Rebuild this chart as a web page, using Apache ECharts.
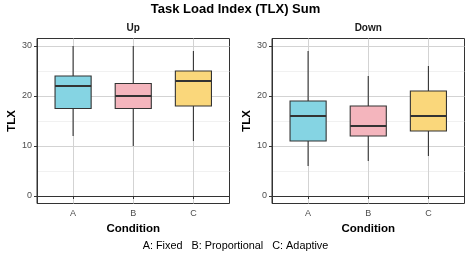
<!DOCTYPE html>
<html>
<head>
<meta charset="utf-8">
<script src="https://cdn.jsdelivr.net/npm/echarts@6/dist/echarts.min.js"></script>
<style>
html,body{margin:0;padding:0;background:#fff;}
#chart{width:471px;height:255px;}
</style>
</head>
<body>
<div id="chart"></div>
<script>
// ---- data ----
const categories = ['A', 'B', 'C'];
const categoryPositions = [1, 2, 3];
const panelNames = ['Up', 'Down'];
// [lower whisker, Q1, median, Q3, upper whisker]
const upStats = [
  [12, 17.5, 22, 24, 30],
  [10, 17.5, 20, 22.5, 30],
  [11, 18, 23, 25, 29]
];
const downStats = [
  [6, 11, 16, 19, 29],
  [7, 12, 14, 18, 24],
  [8, 13, 16, 21, 26]
];
const yMajorTicks = [0, 10, 20, 30];
const yMinorTicks = [5, 15, 25];
const boxColors = ['#85D4E3', '#F4B5BD', '#FAD77B'];
const titleText = 'Task Load Index (TLX) Sum';
const captionText = 'A: Fixed   B: Proportional   C: Adaptive';
const xTitle = 'Condition';
const yTitle = 'TLX';

// ---- chart ----
const FONT = '"Liberation Sans", Arial, Helvetica, sans-serif';
const BOX_W = 0.6;
const chart = echarts.init(document.getElementById('chart'), null, {renderer: 'canvas'});

function toData(stats) {
  return stats.map((s, i) => [categoryPositions[i]].concat(s));
}

function renderBox(params, api) {
  const x = api.value(0);
  const lo = api.coord([x, api.value(1)]);
  const q1 = api.coord([x, api.value(2)]);
  const med = api.coord([x, api.value(3)]);
  const q3 = api.coord([x, api.value(4)]);
  const hi = api.coord([x, api.value(5)]);
  const half = api.size([BOX_W, 0])[0] / 2;
  const color = boxColors[params.dataIndex];
  const stroke = '#333333';
  return {
    type: 'group',
    children: [
      {type: 'line', shape: {x1: hi[0], y1: hi[1], x2: q3[0], y2: q3[1]}, style: {stroke: stroke, lineWidth: 1.1}},
      {type: 'line', shape: {x1: q1[0], y1: q1[1], x2: lo[0], y2: lo[1]}, style: {stroke: stroke, lineWidth: 1.1}},
      {type: 'rect', shape: {x: q3[0] - half, y: q3[1], width: half * 2, height: q1[1] - q3[1]},
        style: {fill: color, stroke: stroke, lineWidth: 1.1}},
      {type: 'line', shape: {x1: med[0] - half, y1: med[1], x2: med[0] + half, y2: med[1]},
        style: {stroke: stroke, lineWidth: 2.2}}
    ]
  };
}

const grids = [
  {left: 37, right: 241.5, top: 38.5, bottom: 51.5, show: true, borderColor: '#333333', borderWidth: 1, backgroundColor: 'transparent'},
  {left: 272, right: 6.5, top: 38.5, bottom: 51.5, show: true, borderColor: '#333333', borderWidth: 1, backgroundColor: 'transparent'}
];

const xAxes = [0, 1].map(g => ({
  type: 'value', gridIndex: g, min: 0.4, max: 3.6,
  name: xTitle, nameLocation: 'middle', nameGap: 17,
  nameTextStyle: {fontFamily: FONT, fontWeight: 'bold', fontSize: 11.5, color: '#000'},
  axisLine: {show: true, lineStyle: {color: '#333333', width: 1}},
  axisTick: {show: true, length: 3, customValues: categoryPositions, lineStyle: {color: '#333333', width: 1}},
  axisLabel: {customValues: categoryPositions, margin: 5.5, fontFamily: FONT, fontSize: 9, color: '#4D4D4D',
    formatter: v => categories[categoryPositions.indexOf(Math.round(v))] || ''},
  splitLine: {show: true, lineStyle: {color: '#D3D3D3', width: 1}}
}));

const yAxes = [];
[0, 1].forEach(g => {
  yAxes.push({
    type: 'value', gridIndex: g, min: -1.5, max: 31.5, position: 'left',
    name: yTitle, nameLocation: 'middle', nameGap: 19, nameRotate: 90,
    nameTextStyle: {fontFamily: FONT, fontWeight: 'bold', fontSize: 11.5, color: '#000'},
    axisLine: {show: true, lineStyle: {color: '#333333', width: 1}},
    axisTick: {show: true, length: 3, customValues: yMajorTicks, lineStyle: {color: '#333333', width: 1}},
    axisLabel: {customValues: yMajorTicks, margin: 5, fontFamily: FONT, fontSize: 9, color: '#4D4D4D'},
    splitLine: {show: true, lineStyle: {color: '#D3D3D3', width: 1}}
  });
  yAxes.push({
    type: 'value', gridIndex: g, min: -1.5, max: 31.5, position: 'right',
    axisLine: {show: false}, axisTick: {show: false, customValues: yMinorTicks},
    axisLabel: {show: false, customValues: yMinorTicks},
    splitLine: {show: true, lineStyle: {color: '#EBEBEB', width: 0.7}}
  });
});

const series = [upStats, downStats].map((stats, g) => ({
  type: 'custom', name: panelNames[g], xAxisIndex: g, yAxisIndex: g * 2,
  renderItem: renderBox,
  encode: {x: 0, y: [1, 2, 3, 4, 5]},
  data: toData(stats),
  z: 3
}));

const option = {
  animation: false,
  backgroundColor: '#ffffff',
  grid: grids,
  xAxis: xAxes,
  yAxis: yAxes,
  series: series,
  graphic: [
    {type: 'text', x: 235.5, y: 9, style: {text: titleText, font: 'bold 13px ' + FONT, fill: '#000', textAlign: 'center', textVerticalAlign: 'middle'}},
    {type: 'text', x: 133.25, y: 28, style: {text: panelNames[0], font: 'bold 10px ' + FONT, fill: '#1a1a1a', textAlign: 'center', textVerticalAlign: 'middle'}},
    {type: 'text', x: 368.25, y: 28, style: {text: panelNames[1], font: 'bold 10px ' + FONT, fill: '#1a1a1a', textAlign: 'center', textVerticalAlign: 'middle'}},
    {type: 'text', x: 235.5, y: 246, style: {text: captionText, font: '10.85px ' + FONT, fill: '#000', textAlign: 'center', textVerticalAlign: 'middle'}}
  ]
};
chart.setOption(option);
</script>
</body>
</html>
